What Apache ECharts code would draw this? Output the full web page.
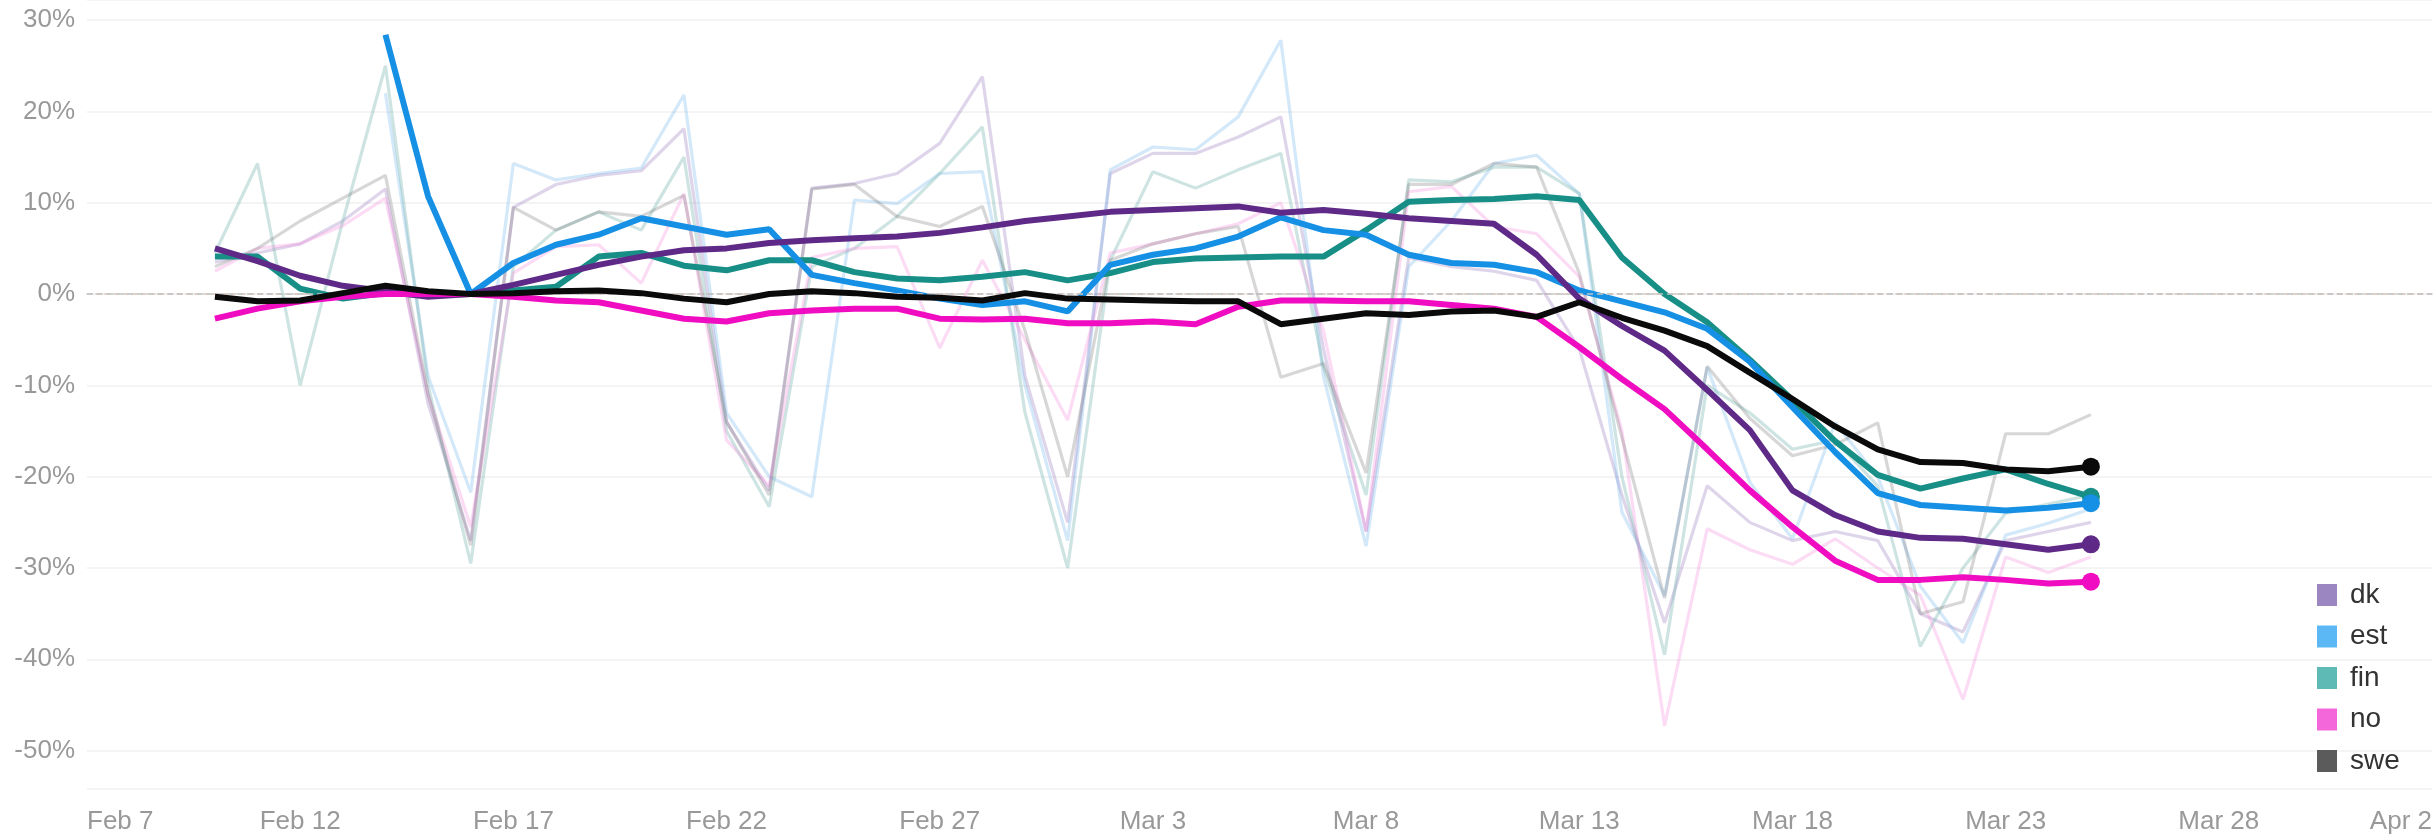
<!DOCTYPE html>
<html>
<head>
<meta charset="utf-8">
<title>Nordic mobility change</title>
<script src="https://cdn.jsdelivr.net/npm/echarts@6.0.0/dist/echarts.min.js"></script>
<style>
    html, body { margin: 0; padding: 0; background: #fff; }
    #main { width: 2435px; height: 838px; }
</style>
</head>
<body>
<div id="main"></div>
<script>
var dates = ['2020-02-10', '2020-02-11', '2020-02-12', '2020-02-13', '2020-02-14', '2020-02-15', '2020-02-16',
    '2020-02-17', '2020-02-18', '2020-02-19', '2020-02-20', '2020-02-21', '2020-02-22', '2020-02-23',
    '2020-02-24', '2020-02-25', '2020-02-26', '2020-02-27', '2020-02-28', '2020-02-29', '2020-03-01',
    '2020-03-02', '2020-03-03', '2020-03-04', '2020-03-05', '2020-03-06', '2020-03-07', '2020-03-08',
    '2020-03-09', '2020-03-10', '2020-03-11', '2020-03-12', '2020-03-13', '2020-03-14', '2020-03-15',
    '2020-03-16', '2020-03-17', '2020-03-18', '2020-03-19', '2020-03-20', '2020-03-21', '2020-03-22',
    '2020-03-23', '2020-03-24', '2020-03-25'];
var xTicks = ['Feb 7', 'Feb 12', 'Feb 17', 'Feb 22', 'Feb 27', 'Mar 3', 'Mar 8', 'Mar 13', 'Mar 18', 'Mar 23', 'Mar 28', 'Apr 2'];
var names = ['dk', 'est', 'fin', 'no', 'swe'];

// bold lines (rolling change, %)
var dkAvg = [5.0, 3.6, 2.0, 0.9, 0.3, -0.3, 0, 1.0, 2.1, 3.2, 4.1, 4.8, 5.0, 5.6, 5.9, 6.1, 6.3, 6.7, 7.3, 8.0, 8.5,
    9.0, 9.2, 9.4, 9.6, 8.9, 9.2, 8.8, 8.3, 8.0, 7.7, 4.3, -0.5, -3.5, -6.2, -10.5, -14.9, -21.5, -24.2, -26.0, -26.7,
    -26.8, -27.4, -28.0, -27.4];
var estAvg = [null, null, null, null, 28.4, 10.7, 0, 3.4, 5.4, 6.5, 8.3, 7.4, 6.5, 7.1, 2.1, 1.2, 0.4, -0.5, -1.2, -0.8, -1.9,
    3.2, 4.3, 5.0, 6.3, 8.4, 7.0, 6.5, 4.3, 3.4, 3.2, 2.4, 0.4, -0.8, -2.0, -3.8, -7.4, -12.4, -17.3, -21.8, -23.1,
    -23.4, -23.7, -23.4, -22.9];
var finAvg = [4.1, 4.1, 0.6, -0.5, 0.1, -0.1, 0, 0.4, 0.8, 4.1, 4.5, 3.1, 2.6, 3.7, 3.7, 2.4, 1.7, 1.5, 1.9, 2.4, 1.5,
    2.3, 3.5, 3.9, 4.0, 4.1, 4.1, 7.0, 10.1, 10.3, 10.4, 10.7, 10.3, 4.0, 0.0, -3.1, -7.2, -11.6, -16.1, -19.8, -21.3,
    -20.2, -19.2, -20.8, -22.2];
var noAvg = [-2.7, -1.6, -0.8, -0.3, 0, 0, 0, -0.3, -0.7, -0.9, -1.8, -2.7, -3.0, -2.1, -1.8, -1.6, -1.6, -2.7, -2.8, -2.7, -3.2,
    -3.2, -3.0, -3.3, -1.4, -0.7, -0.7, -0.8, -0.8, -1.2, -1.6, -2.5, -5.8, -9.3, -12.6, -17.0, -21.5, -25.5, -29.2, -31.3, -31.3,
    -31.0, -31.3, -31.7, -31.5];
var sweAvg = [-0.3, -0.8, -0.7, 0.1, 0.9, 0.3, 0, 0.1, 0.3, 0.4, 0.1, -0.5, -0.9, 0, 0.3, 0.1, -0.3, -0.4, -0.7, 0.1, -0.5,
    -0.6, -0.7, -0.8, -0.8, -3.3, -2.7, -2.1, -2.3, -1.9, -1.8, -2.5, -0.9, -2.6, -4.0, -5.7, -8.6, -11.5, -14.5, -17.0, -18.4,
    -18.5, -19.2, -19.4, -18.9];

// faint lines (daily change, %)
var dkDay = [3.5, 4.5, 5.5, 8, 11.5, -12, -27, 9.5, 12, 13, 13.5, 18.1, -14, -21.5, 11.6, 12.1, 13.2, 16.5, 23.8, -9, -25,
    13.2, 15.4, 15.4, 17.2, 19.4, -6, -26, 4, 3, 2.5, 1.5, -6, -22, -36, -21, -25, -27, -26, -27, -35,
    -37, -27, -26, -25];
var estDay = [null, null, null, null, 22, -9, -21.7, 14.3, 12.5, 13.2, 13.8, 21.8, -13, -20, -22.2, 10.3, 9.9, 13.2, 13.4, -10, -27,
    13.6, 16.1, 15.8, 19.4, 27.8, -9, -27.6, 3, 8, 14.3, 15.2, 11, -23.9, -33, -8, -20.6, -26.8, -14.1, -20, -32,
    -38.2, -26.4, -25.1, -23.5];
var finDay = [4.5, 14.3, -10, 8, 25, -10, -29.5, 3, 7, 9, 7, 15, -15, -23.3, 3, 5, 8.5, 13.2, 18.3, -13, -30,
    3.7, 13.4, 11.6, 13.6, 15.4, -8, -22, 12.5, 12.3, 13.9, 13.9, 11, -20, -39.5, -10, -13, -17, -16, -21, -38.6,
    -30, -24, -23, -22];
var noDay = [2.5, 5, 5.5, 7.5, 10.5, -11, -25.5, 2.3, 5.2, 5.4, 1.2, 11, -16, -21, 4, 5, 5.2, -5.9, 3.7, -5, -13.8,
    4.5, 5.5, 6.6, 7.7, 10, -4, -26, 11.2, 11.8, 7.4, 6.6, 1.9, -15, -47.3, -25.7, -28, -29.6, -26.8, -30, -33,
    -44.4, -28.8, -30.5, -28.8];
var sweDay = [3, 5, 8, 10.5, 13, -11, -27.5, 9.5, 7, 9, 8.5, 10.8, -14, -22, 11.5, 12, 8.5, 7.4, 9.6, -4, -20,
    3.7, 5.5, 6.6, 7.4, -9.1, -7.6, -19.6, 12, 12, 14.3, 13.9, 2.3, -15.7, -33.3, -7.9, -13.6, -17.7, -16.5, -14.1, -35,
    -33.7, -15.3, -15.3, -13.2];

var avgData = {dk: dkAvg, est: estAvg, fin: finAvg, no: noAvg, swe: sweAvg};
var dayData = {dk: dkDay, est: estDay, fin: finDay, no: noDay, swe: sweDay};

var boldColors = {dk: '#5f2a87', est: '#1690e4', fin: '#178f87', no: '#f00cc0', swe: '#0a0a0a'};
var faintColors = {dk: 'rgba(150,115,190,0.3)', est: 'rgba(120,185,235,0.33)', fin: 'rgba(120,180,175,0.36)',
    no: 'rgba(245,135,220,0.3)', swe: 'rgba(110,110,110,0.28)'};
var legendColors = {dk: '#9c86c2', est: '#5cb8f5', fin: '#5dbab4', no: '#f467da', swe: '#5b5b5b'};

var day0 = Date.parse('2020-02-07T00:00:00Z');
function dayIndex(d) {
    return (Date.parse(d + 'T00:00:00Z') - day0) / 86400000;
}

function toPoints(vals, endDot) {
    var pts = [];
    for (var i = 0; i < dates.length; i++) {
        if (vals[i] == null) continue;
        pts.push([dayIndex(dates[i]), vals[i]]);
    }
    if (endDot) {
        var last = pts.pop();
        pts.push({value: last, symbol: 'circle', symbolSize: 18});
    }
    return pts;
}

var myChart = echarts.init(document.getElementById('main'));
var font = 'Liberation Sans, Arial, sans-serif';

var series = [];
names.forEach(function (n) {
    series.push({
        name: n + ' daily',
        type: 'line',
        symbol: 'none',
        silent: true,
        z: 2,
        lineStyle: {color: faintColors[n], width: 3.2},
        data: toPoints(dayData[n], false)
    });
});
['fin', 'est', 'dk', 'no', 'swe'].forEach(function (n, k) {
    series.push({
        name: n,
        type: 'line',
        symbol: 'none',
        z: 3 + k,
        color: boldColors[n],
        lineStyle: {color: boldColors[n], width: 6},
        itemStyle: {color: boldColors[n]},
        data: toPoints(avgData[n], true)
    });
});
// dashed zero line
series[0].markLine = {
    silent: true,
    symbol: 'none',
    label: {show: false},
    lineStyle: {color: '#c4c4c4', type: [6, 4], width: 1.5},
    data: [{yAxis: 0}]
};

var option = {
    backgroundColor: '#fff',
    animation: false,
    grid: {left: 87, right: 3, top: 0, bottom: 49},
    legend: {
        orient: 'vertical',
        left: 2312,
        top: 576,
        icon: 'rect',
        itemWidth: 20,
        itemHeight: 22,
        itemGap: 13.5,
        textStyle: {fontFamily: font, fontSize: 28, color: '#333', padding: [0, 0, 0, 8]},
        data: names.map(function (n) {
            return {name: n, itemStyle: {color: legendColors[n]}};
        })
    },
    xAxis: {
        type: 'value',
        min: 0,
        max: 55,
        interval: 5,
        axisLine: {lineStyle: {color: '#d8c4bb', type: [5, 4], width: 1.5}},
        axisTick: {show: false},
        splitLine: {show: false},
        axisLabel: {
            margin: 20,
            fontFamily: font,
            fontSize: 26,
            color: '#999',
            alignMinLabel: 'left',
            alignMaxLabel: 'right',
            formatter: function (v) {
                return xTicks[Math.round(v / 5)] || '';
            }
        }
    },
    yAxis: {
        type: 'value',
        min: -54.2,
        max: 32.2,
        splitNumber: 9,
        axisLine: {show: false},
        axisTick: {show: false},
        splitLine: {lineStyle: {color: '#f1f1f1', width: 1.5}},
        axisLabel: {
            margin: 12,
            fontFamily: font,
            fontSize: 26,
            color: '#999',
            showMinLabel: false,
            showMaxLabel: false,
            formatter: function (v) {
                return Math.abs(v % 10) < 1e-6 ? v + '%' : '';
            }
        }
    },
    series: series
};
myChart.setOption(option);
</script>
</body>
</html>
